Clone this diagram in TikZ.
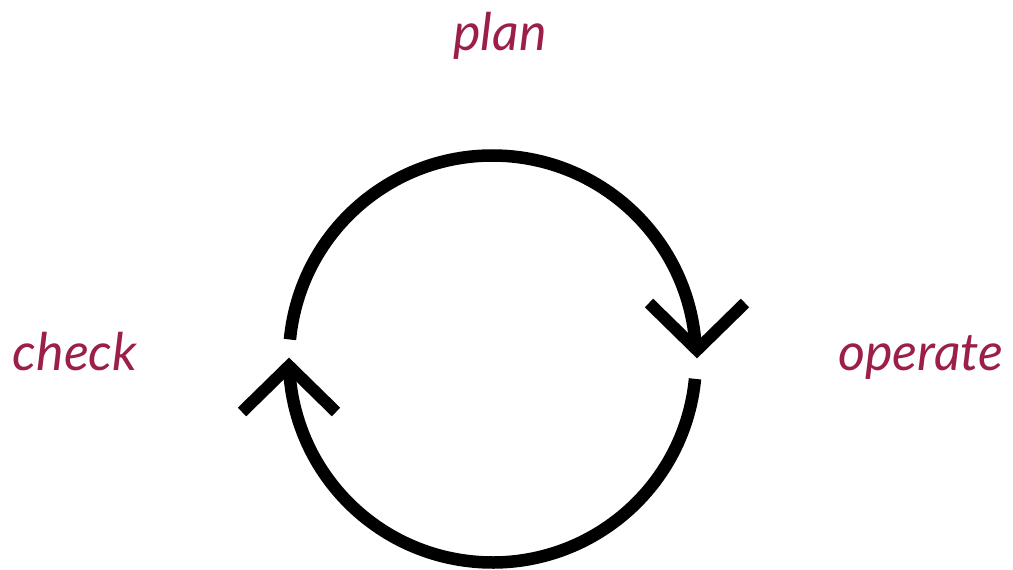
\documentclass[tikz,border=0pt]{standalone}
\usepackage{fontspec}
\setmainfont{Lato}
\usetikzlibrary{calc}
\definecolor{labelred}{RGB}{155,30,75}
\begin{document}
\begin{tikzpicture}[x=1pt,y=-1pt,
  ring/.style={line width=12.5pt,line cap=butt,black},
  wing/.style={line width=12pt,line cap=butt,line join=miter,black},
  lbl/.style={text=labelred,font=\itshape\fontsize{52}{56}\selectfont,anchor=base,inner sep=0pt}]
\useasboundingbox (0,0) rectangle (1013,570);
\coordinate (c) at (492.5,359);
% top arc: from left (gap) clockwise to right tip
\draw[ring] ($(c)+(174.5:203.5pt)$) arc[start angle=174.5,end angle=3,radius=203.5pt];
\draw[ring] ($(c)+(-5.6:203.5pt)$) arc[start angle=-5.6,end angle=-177,radius=203.5pt];
\coordinate (rt) at (697,350);
\coordinate (lt) at (289,366);
\draw[wing] ($(rt)+(-48,-47)$) -- (rt) -- ($(rt)+(48,-47)$);
\draw[wing] ($(lt)+(-47,46)$) -- (lt) -- ($(lt)+(47,46)$);
\node[lbl] (plan) at (500,50) {plan};
\node[lbl] (check) at (75,370) {check};
\node[lbl] (operate) at (921,370) {operate};
\end{tikzpicture}
\end{document}
